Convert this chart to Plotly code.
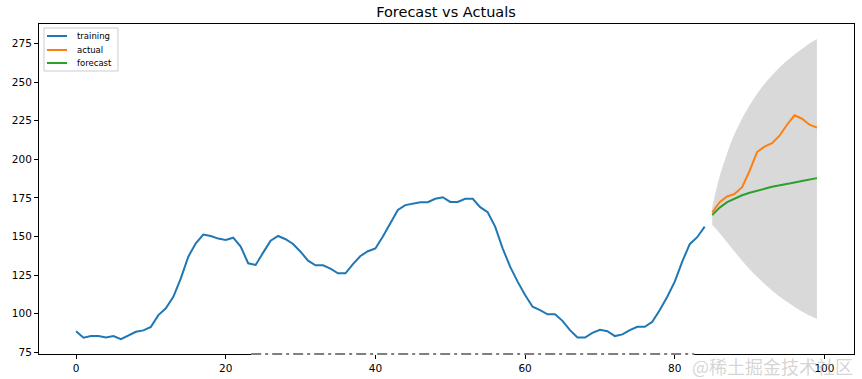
import plotly.graph_objects as go

# ---- data ----
train_x = list(range(0, 85))
train_y = [88.6, 84.4, 85.4, 85.4, 84.5, 85.4, 83.4, 85.6, 88.2, 89.1,
           91.4, 99.0, 103.4, 110.9, 122.8, 136.9, 145.6, 151.2, 150.3, 148.6,
           147.7, 149.2, 143.4, 132.6, 131.5, 139.5, 147.3, 150.3, 148.2, 145.1,
           140.1, 134.3, 131.3, 131.3, 129.1, 126.1, 126.1, 132.1, 137.3, 140.4,
           142.2, 149.9, 159.0, 167.2, 170.3, 171.1, 172.2, 172.2, 174.4, 175.4,
           172.4, 172.4, 174.4, 174.4, 169.0, 165.7, 156.4, 142.3, 130.4, 120.7,
           112.0, 104.4, 102.3, 99.5, 99.5, 95.3, 89.3, 84.5, 84.5, 87.5,
           89.5, 88.6, 85.4, 86.5, 89.3, 91.4, 91.4, 94.7, 102.3, 110.9,
           120.7, 133.7, 145.0, 149.5, 156.4]

test_x = list(range(85, 100))
actual_y = [165.5, 172.2, 175.9, 177.6, 181.9, 192.5, 204.7, 208.3, 210.5, 215.3,
            222.4, 228.5, 226.3, 222.4, 220.5]
forecast_y = [163.8, 168.7, 172.2, 174.6, 176.7, 178.3, 179.8, 180.9, 182.2, 183.0,
              184.1, 185.0, 185.9, 186.9, 187.8]
upper_y = [169.0, 189.0, 204.0, 216.5, 226.5, 235.0, 242.5, 249.0, 254.5, 259.5,
           264.0, 268.0, 271.5, 275.0, 278.0]
lower_y = [157.5, 152.0, 146.0, 140.0, 134.2, 128.8, 123.8, 119.2, 115.0, 111.1,
           107.6, 104.3, 101.3, 98.7, 96.5]

x_ticks = [0, 20, 40, 60, 80, 100]
y_ticks = [75, 100, 125, 150, 175, 200, 225, 250, 275]

series_names = ["training", "actual", "forecast"]
series_colors = ["#1f77b4", "#ff7f0e", "#2ca02c"]

title_text = "Forecast vs Actuals"
watermark = "@稀土掘金技术社区"

FONT = "DejaVu Sans"

fig = go.Figure()

# confidence band
fig.add_trace(go.Scatter(x=test_x, y=lower_y, mode="lines",
                         line=dict(width=0, shape="spline", smoothing=0.8),
                         showlegend=False, hoverinfo="skip"))
fig.add_trace(go.Scatter(x=test_x, y=upper_y, mode="lines",
                         line=dict(width=0, shape="spline", smoothing=0.8),
                         fill="tonexty", fillcolor="rgba(0,0,0,0.15)",
                         showlegend=False, hoverinfo="skip"))

for xs, ys, nm, col in [(train_x, train_y, series_names[0], series_colors[0]),
                        (test_x, actual_y, series_names[1], series_colors[1]),
                        (test_x, forecast_y, series_names[2], series_colors[2])]:
    fig.add_trace(go.Scatter(x=xs, y=ys, mode="lines", name=nm, showlegend=False,
                             line=dict(color=col, width=2)))

axis_common = dict(showgrid=False, zeroline=False, showline=True, linecolor="black",
                   linewidth=1, mirror=True, ticks="outside", ticklen=4,
                   tickcolor="black", tickwidth=1, automargin=False,
                   tickfont=dict(family=FONT, size=10.5, color="black"))

fig.update_xaxes(range=[-4.95, 103.95], tickvals=x_ticks,
                 ticktext=[str(v) for v in x_ticks], **axis_common)
fig.update_yaxes(range=[73.8, 287.7], tickvals=y_ticks,
                 ticktext=[str(v) for v in y_ticks], **axis_common)

# bottom spine segment drawn dash-dot in the reference
fig.add_shape(type="line", xref="x", yref="paper", x0=23.4, x1=82.6, y0=0, y1=0,
              line=dict(color="white", width=2), layer="above")
fig.add_shape(type="line", xref="x", yref="paper", x0=23.4, x1=82.6, y0=0, y1=0,
              line=dict(color="black", width=1, dash="10px,4px,3px,4px"), layer="above")

# legend (matplotlib style, upper left)
fig.add_shape(type="rect", xref="paper", yref="paper", x0=0.0061, x1=0.0969,
              y0=0.8576, y1=0.9879, line=dict(color="#cccccc", width=1),
              fillcolor="rgba(255,255,255,0.8)", layer="above")
annotations = []
leg_y = [0.9636, 0.9212, 0.8818]
for nm, col, yy in zip(series_names, series_colors, leg_y):
    fig.add_shape(type="line", xref="paper", yref="paper", x0=0.0098, x1=0.0344,
                  y0=yy, y1=yy, line=dict(color=col, width=2), layer="above")
    annotations.append(dict(text=nm, xref="paper", yref="paper", x=0.0442, y=yy,
                            xanchor="left", yanchor="middle", showarrow=False,
                            font=dict(family=FONT, size=8.5, color="black")))

annotations.append(dict(text=watermark, xref="paper", yref="paper", x=1.0012, y=-0.036,
                        xanchor="right", yanchor="middle", showarrow=False,
                        font=dict(family="Noto Sans CJK SC", size=18,
                                  color="rgba(160,160,160,0.45)")))

fig.update_layout(
    width=862, height=379,
    margin=dict(l=39, r=8, t=24, b=25),
    paper_bgcolor="white", plot_bgcolor="white",
    title=dict(text=title_text, x=0.5174, xanchor="center", y=0.968, yanchor="middle",
               font=dict(family=FONT, size=14.5, color="black")),
    showlegend=False,
    font=dict(family=FONT),
    annotations=annotations,
)

fig.write_html("out.html", config={"displayModeBar": False},
               post_script="document.body.style.margin='0';")
